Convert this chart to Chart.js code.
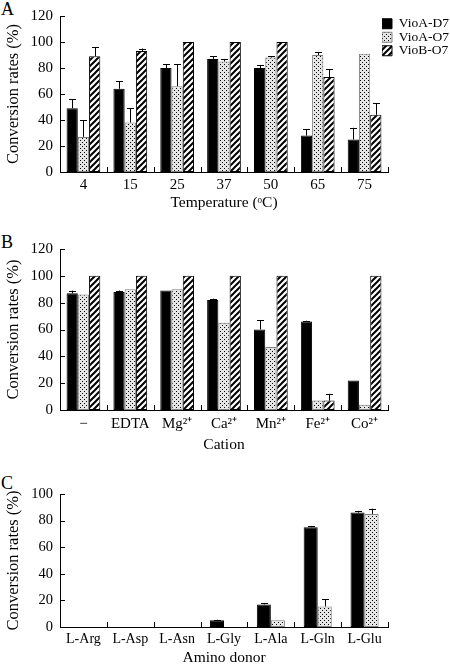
<!DOCTYPE html>
<html>
<head>
<meta charset="utf-8">
<script src="https://cdn.jsdelivr.net/npm/chart.js@4.4.1/dist/chart.umd.min.js"></script>
<style>
  body { margin: 0; background: #fff; width: 450px; height: 667px; position: relative; overflow: hidden; }
  canvas { position: absolute; left: 0; }
  .tag { position: absolute; left: 1px; font-family: 'Liberation Serif', serif; font-size: 18px; line-height: 18px; color: #000; }
</style>
</head>
<body>
<div class="tag" style="top:0px">A</div>
<div class="tag" style="top:233px">B</div>
<div class="tag" style="top:474px">C</div>
<canvas id="chartA" width="450" height="212" style="top:0px"></canvas>
<canvas id="chartB" width="450" height="240" style="top:215px"></canvas>
<canvas id="chartC" width="450" height="207" style="top:460px"></canvas>
<script>
// series names
const seriesNames = ['VioA-D7', 'VioA-O7', 'VioB-O7'];

// A: temperature
const tempLabels = ['4', '15', '25', '37', '50', '65', '75'];
const tempD7 = [49, 64, 80, 87, 80, 28, 25];
const tempD7Err = [7, 6, 3, 2, 2, 5, 9];
const tempO7 = [27, 38, 66, 85, 88, 90, 91];
const tempO7Err = [13, 11, 17, 2, 1, 2, 0];
const tempVioB = [89, 93, 100, 100, 100, 73, 44];
const tempVioBErr = [7, 2, 0, 0, 0, 6, 9];

// B: cation
const cationLabels = ['\u2212', 'EDTA', 'Mg\u00b2\u207a', 'Ca\u00b2\u207a', 'Mn\u00b2\u207a', 'Fe\u00b2\u207a', 'Co\u00b2\u207a'];
const cationD7 = [87, 88, 89, 82, 60, 66, 22];
const cationD7Err = [2, 1, 0, 1, 7, 0.5, 0];
const cationO7 = [86, 90, 90, 65, 47, 7, 4];
const cationO7Err = [0, 0, 0, 0, 0, 0, 0];
const cationVioB = [100, 100, 100, 100, 100, 7, 100];
const cationVioBErr = [0, 0, 0, 0, 0, 5, 0];

// C: amino donor
const donorLabels = ['L-Arg', 'L-Asp', 'L-Asn', 'L-Gly', 'L-Ala', 'L-Gln', 'L-Glu'];
const donorD7 = [0, 0, 0, 5, 17, 75, 86];
const donorD7Err = [0, 0, 0, 0.5, 1, 1, 1.3];
const donorO7 = [0, 0, 0, 0, 5, 15.5, 85];
const donorO7Err = [0, 0, 0, 0, 0, 5.3, 4];

const yTicksA = [0, 20, 40, 60, 80, 100, 120];
const yTicksC = [0, 20, 40, 60, 80, 100];

Chart.defaults.font.family = "'Liberation Serif', 'Times New Roman', serif";
Chart.defaults.color = '#000';

// fill patterns
function makeDots() {
    const c = document.createElement('canvas');
    c.width = 4; c.height = 4;
    const g = c.getContext('2d');
    g.fillStyle = '#e6e6e6';
    g.fillRect(0, 0, 4, 4);
    g.fillStyle = '#000';
    g.fillRect(0, 0, 1, 1);
    g.fillRect(2, 2, 1, 1);
    return g.createPattern(c, 'repeat');
}
function makeHatch() {
    const c = document.createElement('canvas');
    c.width = 6; c.height = 6;
    const g = c.getContext('2d');
    g.fillStyle = '#fff';
    g.fillRect(0, 0, 6, 6);
    g.strokeStyle = '#000';
    g.lineWidth = 2;
    g.beginPath();
    g.moveTo(-1, 7); g.lineTo(7, -1);
    g.moveTo(-1, 1); g.lineTo(1, -1);
    g.moveTo(5, 7); g.lineTo(7, 5);
    g.stroke();
    return g.createPattern(c, 'repeat');
}
const dots = makeDots();
const hatch = makeHatch();

// one-sided error bars (up only) with a cap
const errorBars = {
    id: 'errorBars',
    afterDatasetsDraw(chart) {
        const ctx = chart.ctx;
        const y = chart.scales.y;
        ctx.save();
        ctx.strokeStyle = '#000';
        ctx.lineWidth = 1;
        chart.data.datasets.forEach((ds, di) => {
            if (!ds.errors) return;
            chart.getDatasetMeta(di).data.forEach((bar, i) => {
                const e = ds.errors[i];
                if (!e) return;
                const top = y.getPixelForValue(ds.data[i] + e);
                const x = Math.round(bar.x) + 0.5;
                ctx.beginPath();
                ctx.moveTo(x, bar.y);
                ctx.lineTo(x, top);
                ctx.moveTo(x - 3.5, Math.round(top) + 0.5);
                ctx.lineTo(x + 3.5, Math.round(top) + 0.5);
                ctx.stroke();
            });
        });
        ctx.restore();
    }
};

// short tick marks pointing into the plot
const inTicks = {
    id: 'inTicks',
    afterDraw(chart) {
        const {ctx, scales: {x, y}} = chart;
        ctx.save();
        ctx.strokeStyle = '#000';
        ctx.lineWidth = 1;
        ctx.beginPath();
        y.ticks.forEach((t, i) => {
            const py = Math.round(y.getPixelForTick(i)) + 0.5;
            ctx.moveTo(y.right, py);
            ctx.lineTo(y.right + 5, py);
        });
        const n = x.ticks.length;
        for (let i = 1; i <= n; i++) {
            const px = Math.round(x.left + i * (x.right - x.left) / n) + 0.5;
            ctx.moveTo(px, x.top);
            ctx.lineTo(px, x.top - 5);
        }
        ctx.stroke();
        ctx.restore();
    }
};

// fixed legend width so the plot ends at the same x in all panels
const legendWidth = {
    id: 'legendWidth',
    beforeInit(chart) {
        if (!chart.legend || !chart.options.plugins.legend.display) return;
        const fit = chart.legend.fit;
        chart.legend.fit = function () {
            fit.call(this);
            this.width = 62;
        };
    },
    afterLayout(chart) {
        if (chart.legend && chart.options.plugins.legend.display) {
            chart.legend.left -= 6;
            chart.legend.top += 4;
        }
    }
};

function dsD7(data, err) {
    return { label: seriesNames[0], data: data, errors: err, backgroundColor: '#000', borderColor: '#000', borderWidth: 1, borderSkipped: false };
}
function dsO7(data, err) {
    return { label: seriesNames[1], data: data, errors: err, backgroundColor: dots, borderColor: '#808080', borderWidth: 1, borderSkipped: false };
}
function dsVioB(data, err) {
    return { label: seriesNames[2], data: data, errors: err, backgroundColor: hatch, borderColor: '#000', borderWidth: 1, borderSkipped: false };
}

function makeChart(id, labels, datasets, opt) {
    return new Chart(document.getElementById(id), {
        type: 'bar',
        data: { labels: labels, datasets: datasets },
        options: {
            responsive: false,
            animation: false,
            datasets: { bar: { categoryPercentage: opt.catPct, barPercentage: 1 } },
            layout: { padding: { top: opt.padTop, right: opt.legend ? 0 : 62, left: 0, bottom: 0 } },
            plugins: {
                tooltip: { enabled: false },
                legend: {
                    display: opt.legend,
                    position: 'right',
                    align: 'start',
                    labels: {
                        boxWidth: 10,
                        boxHeight: 10,
                        padding: 0,
                        font: { size: 13.5 }
                    }
                }
            },
            scales: {
                x: {
                    grid: { display: false, drawTicks: false },
                    border: { color: '#000', width: 1 },
                    ticks: { padding: opt.xPad, font: { size: opt.xFont }, maxRotation: 0, autoSkip: false },
                    title: { display: true, text: opt.xTitle, font: { size: 15.5 }, padding: { top: 0, bottom: opt.xTitlePad } },
                    afterFit(s) { s.height = opt.xHeight; }
                },
                y: {
                    min: 0,
                    max: opt.yMax,
                    grid: { display: false, drawTicks: false },
                    border: { color: '#000', width: 1 },
                    afterBuildTicks(s) { s.ticks = opt.yTicks.map(v => ({ value: v })); },
                    ticks: { padding: 7, font: { size: opt.yFont } },
                    title: { display: true, text: 'Conversion rates (%)', font: { size: 16.5 }, padding: { top: 4, bottom: 0 } },
                    afterFit(s) { s.width = 60; }
                }
            }
        },
        plugins: [errorBars, inTicks, legendWidth]
    });
}

makeChart('chartA', tempLabels, [
    dsD7(tempD7, tempD7Err),
    dsO7(tempO7, tempO7Err),
    dsVioB(tempVioB, tempVioBErr)
], { catPct: 0.72, padTop: 13, legend: true, xPad: 4, xFont: 15, xTitle: 'Temperature (\u1d52C)', xTitlePad: 0, xHeight: 40, yMax: 120, yTicks: yTicksA, yFont: 15 });

makeChart('chartB', cationLabels, [
    dsD7(cationD7, cationD7Err),
    dsO7(cationO7, cationO7Err),
    dsVioB(cationVioB, cationVioBErr)
], { catPct: 0.72, padTop: 34, legend: false, xPad: 5, xFont: 15, xTitle: 'Cation', xTitlePad: 1, xHeight: 45, yMax: 120, yTicks: yTicksA, yFont: 15 });

makeChart('chartC', donorLabels, [
    dsD7(donorD7, donorD7Err),
    dsO7(donorO7, donorO7Err)
], { catPct: 0.6, padTop: 34, legend: false, xPad: 4, xFont: 14, xTitle: 'Amino donor', xTitlePad: 0, xHeight: 40, yMax: 100, yTicks: yTicksC, yFont: 14.5 });
</script>
</body>
</html>
